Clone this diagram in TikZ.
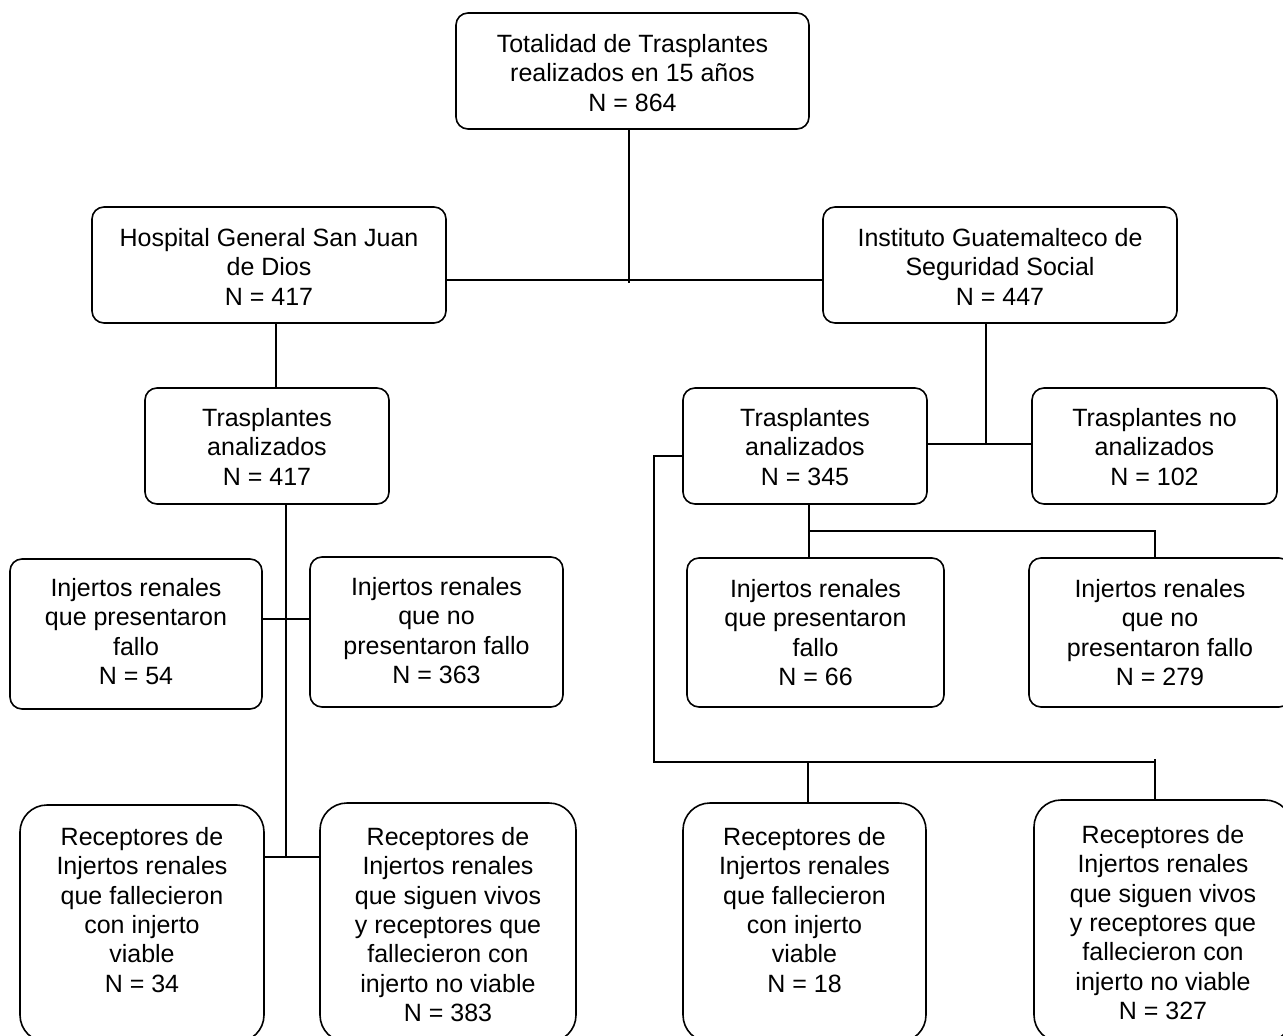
\documentclass[tikz,border=0pt]{standalone}
\usepackage{fontspec}
\setmainfont{Liberation Sans}
\begin{document}
\begin{tikzpicture}[x=1pt,y=-1pt,
  box/.style={draw, line width=1.6pt, rounded corners=12pt, inner sep=0pt},
  bigbox/.style={box, rounded corners=27pt},
  txt/.style={inner sep=0pt, align=center, anchor=north, font=\fontsize{25}{29.3}\selectfont},
  conn/.style={line width=1.3pt}]
\useasboundingbox (0,0) rectangle (1283,1036);
\clip (0,0) rectangle (1283,1036);

% boxes
\node[box, minimum width=353pt, minimum height=116pt] (top) at (632.5,71) {};
\node[box, minimum width=354pt, minimum height=116pt] (hosp) at (269,265) {};
\node[box, minimum width=354pt, minimum height=116pt] (inst) at (1000,265) {};
\node[box, minimum width=244pt, minimum height=116pt] (taL) at (267,446) {};
\node[box, minimum width=244pt, minimum height=116pt] (taR) at (805,446) {};
\node[box, minimum width=245pt, minimum height=116pt] (tna) at (1154.5,446) {};
\node[box, minimum width=252pt, minimum height=150pt] (L1) at (136,634) {};
\node[box, minimum width=253pt, minimum height=150pt] (L2) at (436.5,632) {};
\node[box, minimum width=257pt, minimum height=149pt] (R1) at (815.5,632.5) {};
\node[box, minimum width=262pt, minimum height=149pt] (R2) at (1160,632.5) {};
\node[bigbox, minimum width=244pt, minimum height=237pt] (LL1) at (142,923.5) {};
\node[bigbox, minimum width=256pt, minimum height=239pt] (LL2) at (448,922.5) {};
\node[bigbox, minimum width=243pt, minimum height=239pt] (RR1) at (804.5,922.5) {};
\node[bigbox, minimum width=258pt, minimum height=242pt] (RR2) at (1163,921) {};

% texts
\node[txt] (ttop) at ([yshift=-22pt]top.north) {Totalidad de Trasplantes\\realizados en 15 años\\N = 864};
\node[txt] (thosp) at ([yshift=-22pt]hosp.north) {Hospital General San Juan\\de Dios\\N = 417};
\node[txt] (tinst) at ([yshift=-22pt]inst.north) {Instituto Guatemalteco de\\Seguridad Social\\N = 447};
\node[txt] (ttaL) at ([yshift=-21pt]taL.north) {Trasplantes\\analizados\\N = 417};
\node[txt] (ttaR) at ([yshift=-21pt]taR.north) {Trasplantes\\analizados\\N = 345};
\node[txt] (ttna) at ([yshift=-21pt]tna.north) {Trasplantes no\\analizados\\N = 102};
\node[txt] (tL1) at ([yshift=-20pt]L1.north) {Injertos renales\\que presentaron\\fallo\\N = 54};
\node[txt] (tL2) at ([yshift=-21pt]L2.north) {Injertos renales\\que no\\presentaron fallo\\N = 363};
\node[txt] (tR1) at ([yshift=-22pt]R1.north) {Injertos renales\\que presentaron\\fallo\\N = 66};
\node[txt] (tR2) at ([yshift=-22pt]R2.north) {Injertos renales\\que no\\presentaron fallo\\N = 279};
\node[txt] (tLL1) at ([yshift=-23pt]LL1.north) {Receptores de\\Injertos renales\\que fallecieron\\con injerto\\viable\\N = 34};
\node[txt] (tLL2) at ([yshift=-25pt]LL2.north) {Receptores de\\Injertos renales\\que siguen vivos\\y receptores que\\fallecieron con\\injerto no viable\\N = 383};
\node[txt] (tRR1) at ([yshift=-25pt]RR1.north) {Receptores de\\Injertos renales\\que fallecieron\\con injerto\\viable\\N = 18};
\node[txt] (tRR2) at ([yshift=-26pt]RR2.north) {Receptores de\\Injertos renales\\que siguen vivos\\y receptores que\\fallecieron con\\injerto no viable\\N = 327};

% connectors
\coordinate (jt) at (629,283);
\draw[conn] (top.south -| jt) -- (jt);
\draw[conn] (hosp.east |- 0,280) -- (inst.west |- 0,280);
\draw[conn] (hosp.south -| 276,0) -- (taL.north -| 276,0);
\coordinate (jl) at (286,857);
\draw[conn] (taL.south -| jl) -- (jl);
\draw[conn] (L1.east |- 0,619) -- (L2.west |- 0,619);
\draw[conn] (LL1.east |- jl) -- (LL2.west |- jl);
\coordinate (ji) at (986,444);
\draw[conn] (inst.south -| ji) -- (ji);
\draw[conn] (taR.east |- ji) -- (tna.west |- ji);
\coordinate (jr1) at (809,531);
\coordinate (jr2) at (1155,531);
\draw[conn] (taR.south -| jr1) -- (R1.north -| jr1);
\draw[conn] (jr1) -- (jr2) -- (R2.north -| jr2);
\coordinate (jw) at (654,456);
\coordinate (jb) at (654,762);
\coordinate (jb1) at (808,762);
\coordinate (jb2) at (1155,762);
\draw[conn] (taR.west |- jw) -- (jw) -- (jb) -- (jb2);
\draw[conn] (jb1) -- (RR1.north -| jb1);
\draw[conn] ([yshift=3pt]jb2) -- (RR2.north -| jb2);
\end{tikzpicture}
\end{document}
